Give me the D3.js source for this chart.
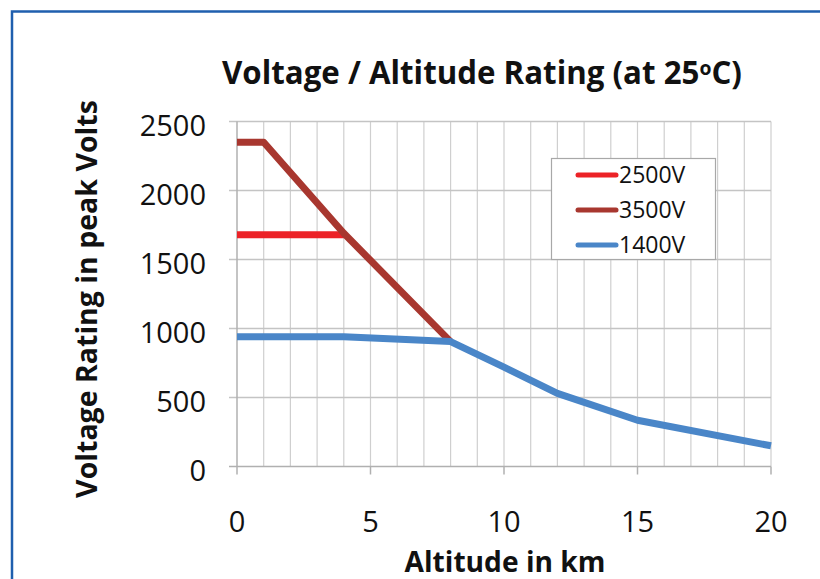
<!DOCTYPE html>
<html>
<head>
<meta charset="utf-8">
<script src="https://cdn.jsdelivr.net/npm/d3@7"></script>
<style>
  body { margin: 0; background: #fff; }
  svg { display: block; }
  text { font-family: "Open Sans", sans-serif; fill: #111; }
</style>
</head>
<body>
<div id="chart"></div>
<script>
// values
const altitude2500 = [0, 4];
const volts2500 = [1680, 1680];
const altitude3500 = [0, 1, 4, 8];
const volts3500 = [2350, 2350, 1690, 905];
const altitude1400 = [0, 4, 8, 10, 12, 15, 20];
const volts1400 = [940, 940, 905, 720, 530, 335, 150];

const seriesNames = ['2500V', '3500V', '1400V'];
const seriesColors = ['#ec2227', '#a8372f', '#4a86c8'];
const xTicks = [0, 5, 10, 15, 20];
const yTicks = [0, 500, 1000, 1500, 2000, 2500];

const width = 820,
    height = 579,
    margin = { top: 121.5, right: 49, bottom: 112.5, left: 237 };

const svg = d3.select('#chart').append('svg')
    .attr('width', width)
    .attr('height', height);

// blue frame, only top and left edges visible
svg.append('path')
    .attr('d', `M12,${height} V11.5 H${width}`)
    .attr('fill', 'none')
    .attr('stroke', '#1f5fae')
    .attr('stroke-width', 2.5);

const x = d3.scaleLinear().domain([0, 20])
    .range([margin.left, width - margin.right]);
const y = d3.scaleLinear().domain([0, 2500])
    .range([height - margin.bottom, margin.top]);

// minor vertical grid every km
svg.append('g')
    .selectAll('line')
    .data(d3.range(1, 21))
    .enter().append('line')
    .attr('x1', d => x(d)).attr('x2', d => x(d))
    .attr('y1', y(2500)).attr('y2', y(0))
    .attr('stroke', '#cfcfcf')
    .attr('stroke-width', 1.2);

// horizontal grid, with ticks sticking out left
svg.append('g')
    .selectAll('line')
    .data(yTicks)
    .enter().append('line')
    .attr('x1', x(0) - 8).attr('x2', x(20))
    .attr('y1', d => y(d)).attr('y2', d => y(d))
    .attr('stroke', d => d === 0 ? '#b0b0b0' : '#c4c4c4')
    .attr('stroke-width', 1.5);

// y axis line and major x ticks below the axis
svg.append('line')
    .attr('x1', x(0)).attr('x2', x(0))
    .attr('y1', y(2500)).attr('y2', y(0) + 8)
    .attr('stroke', '#b0b0b0')
    .attr('stroke-width', 1.5);
svg.append('g')
    .selectAll('line')
    .data(xTicks.slice(1))
    .enter().append('line')
    .attr('x1', d => x(d)).attr('x2', d => x(d))
    .attr('y1', y(0)).attr('y2', y(0) + 8)
    .attr('stroke', '#b0b0b0')
    .attr('stroke-width', 1.5);

// tick labels
svg.append('g')
    .selectAll('text')
    .data(yTicks)
    .enter().append('text')
    .attr('x', 206)
    .attr('y', d => y(d) + 4)
    .attr('dy', '0.35em')
    .attr('text-anchor', 'end')
    .style('font-size', '29px')
    .text(d => d);

svg.append('g')
    .selectAll('text')
    .data(xTicks)
    .enter().append('text')
    .attr('x', d => x(d))
    .attr('y', 532)
    .attr('text-anchor', 'middle')
    .style('font-size', '29px')
    .text(d => d);

// lines
const line = d3.line().x(d => x(d[0])).y(d => y(d[1]));
const series = [
    d3.zip(altitude2500, volts2500),
    d3.zip(altitude3500, volts3500),
    d3.zip(altitude1400, volts1400)
];
svg.append('g')
    .selectAll('path')
    .data(series)
    .enter().append('path')
    .attr('d', line)
    .attr('fill', 'none')
    .attr('stroke', (d, i) => seriesColors[i])
    .attr('stroke-width', 7)
    .attr('stroke-linejoin', 'round');

// legend
const legend = svg.append('g');
legend.append('rect')
    .attr('x', 551.5).attr('y', 158.5)
    .attr('width', 164).attr('height', 101)
    .attr('fill', '#fff')
    .attr('stroke', '#a8a8a8')
    .attr('stroke-width', 1.2);
seriesNames.forEach((name, i) => {
    const ly = 175 + i * 35;
    legend.append('line')
        .attr('x1', 578).attr('x2', 616)
        .attr('y1', ly).attr('y2', ly)
        .attr('stroke', seriesColors[i])
        .attr('stroke-width', 5)
        .attr('stroke-linecap', 'round');
    legend.append('text')
        .attr('x', 619).attr('y', ly)
        .attr('dy', '0.36em')
        .style('font-size', '23px')
        .text(name);
});

// scale a bold title so it spans the width seen in the picture
function fitText(sel, target) {
    const w = sel.node().getComputedTextLength();
    const fs = parseFloat(sel.style('font-size'));
    sel.style('font-size', (fs * target / w) + 'px');
}

const title = svg.append('text')
    .attr('x', 482).attr('y', 84)
    .attr('text-anchor', 'middle')
    .style('font-size', '26px')
    .style('font-weight', 'bold');
title.append('tspan').text('Voltage / Altitude Rating (at 25');
title.append('tspan').attr('dy', -9).style('font-size', '0.62em').text('o');
title.append('tspan').attr('dy', 9).text('C)');
fitText(title, 520);

const yTitle = svg.append('text')
    .attr('transform', 'translate(97,299) rotate(-90)')
    .attr('text-anchor', 'middle')
    .style('font-size', '24px')
    .style('font-weight', 'bold')
    .text('Voltage Rating in peak Volts');
fitText(yTitle, 398);

const xTitle = svg.append('text')
    .attr('x', 505).attr('y', 572)
    .attr('text-anchor', 'middle')
    .style('font-size', '24px')
    .style('font-weight', 'bold')
    .text('Altitude in km');
fitText(xTitle, 201);
</script>
</body>
</html>
